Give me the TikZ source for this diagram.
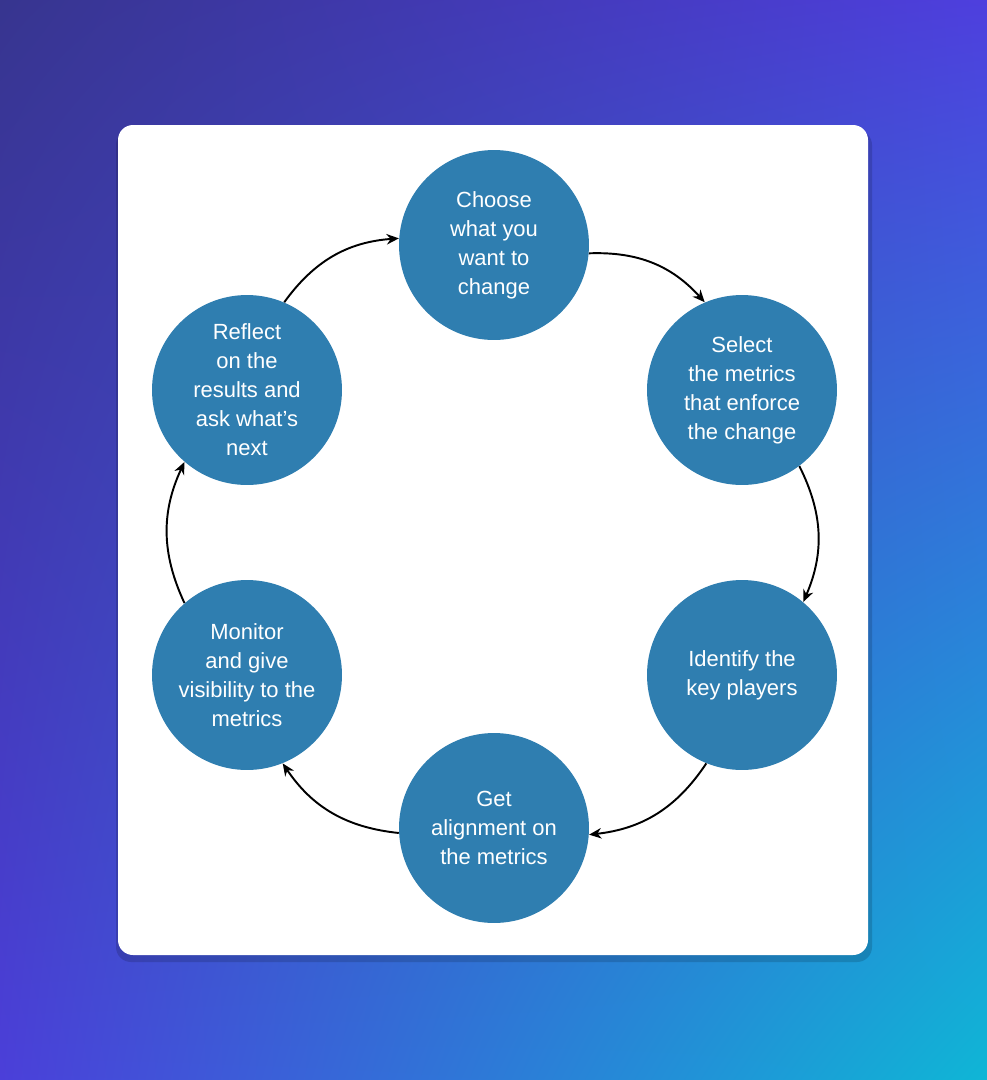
\documentclass[tikz,border=0pt]{standalone}
\usepackage{fontspec}
\setmainfont{Liberation Sans}
\usetikzlibrary{arrows.meta, shadings}
\definecolor{bgA}{HTML}{37358F}
\definecolor{bgB}{HTML}{4E3FDE}
\definecolor{bgC}{HTML}{4B3FD9}
\definecolor{bgD}{HTML}{0FB6D6}
\definecolor{stageblue}{HTML}{2F7EB0}
\tikzset{
  stage/.style={circle, fill=stageblue, minimum size=3.8cm, inner sep=0pt, text=white,
    align=center, font=\fontsize{12.5}{16.5}\selectfont},
  flow/.style={-{Stealth[length=7pt,width=6pt]}, line width=1.1pt, black, bend left=25}
}
\begin{document}
\begin{tikzpicture}[x=0.02cm,y=-0.02cm]
\shade[upper left=bgA, upper right=bgB, lower left=bgC, lower right=bgD] (0,0) rectangle (987,1080);
\useasboundingbox (0,0) rectangle (987,1080);
\fill[black, opacity=0.15, rounded corners=0.3cm] (116,130) rectangle (872,962);
\fill[white, rounded corners=0.3cm] (118,125) rectangle (868,955);

\node[stage] (choose) at (494,245) {Choose\\what you\\want to\\change};
\node[stage] (select) at (742,390) {Select\\the metrics\\that enforce\\the change};
\node[stage] (identify) at (742,675) {Identify the\\key players};
\node[stage] (align) at (494,828) {Get\\alignment on\\the metrics};
\node[stage] (monitor) at (247,675) {Monitor\\and give\\visibility to the\\metrics};
\node[stage] (reflect) at (247,390) {Reflect\\on the\\results and\\ask what’s\\next};

\draw[flow] (choose.-5) to (select.113);
\draw[flow] (select.-53) to (identify.50);
\draw[flow] (identify.-112) to (align.-4);
\draw[flow] (align.183) to (monitor.-68);
\draw[flow] (monitor.131) to (reflect.-131);
\draw[flow] (reflect.67) to (choose.176);
\end{tikzpicture}
\end{document}
